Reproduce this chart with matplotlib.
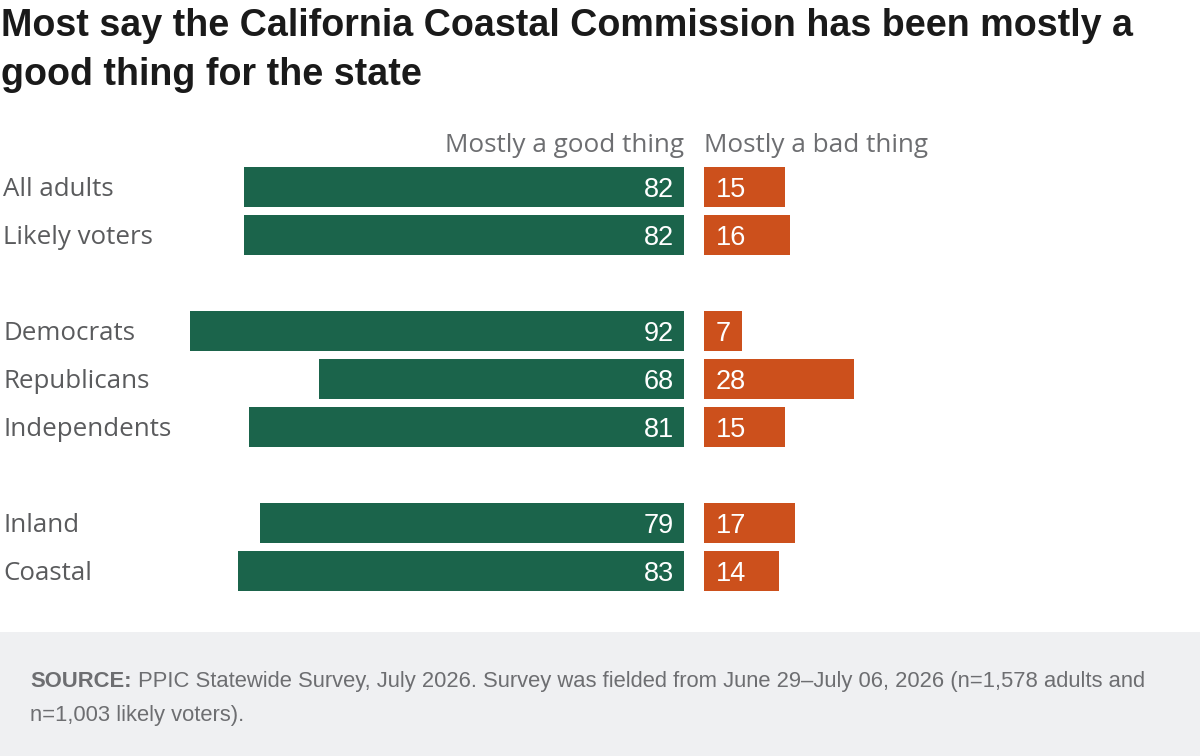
import matplotlib
matplotlib.use("Agg")
import matplotlib.pyplot as plt
from matplotlib.patches import Rectangle
from matplotlib.transforms import blended_transform_factory

# ---- data ----
categories = ["All adults", "Likely voters", "Democrats", "Republicans",
              "Independents", "Inland", "Coastal"]
group_pos = [0, 1, 3, 4, 5, 7, 8]
good = [82, 82, 92, 68, 81, 79, 83]
bad = [15, 16, 7, 28, 15, 17, 14]
series_names = ["Mostly a good thing", "Mostly a bad thing"]
title_lines = ["Most say the California Coastal Commission has been mostly a",
               "good thing for the state"]
source_bold = "SOURCE:"
source_rest = " PPIC Statewide Survey, July 2026. Survey was fielded from June 29\u2013July 06, 2026 (n=1,578 adults and"
source_line2 = "n=1,003 likely voters)."

GREEN = "#1b644b"
ORANGE = "#cc501c"
LABEL = "#5a5b5d"
HEAD = "#6d6e71"
SRC = "#6d6e71"

W, H = 1200, 756
fig = plt.figure(figsize=(W / 100, H / 100), dpi=100)
fig.patch.set_facecolor("white")

TFONT = ["Liberation Sans", "DejaVu Sans"]
LFONT = ["Open Sans", "DejaVu Sans"]
NFONT = ["Liberation Sans", "DejaVu Sans"]

px = 5.37  # pixels per percentage point
top_px, bot_px = 163, 595
bottom = 1 - bot_px / H
height = (bot_px - top_px) / H

left_l, right_l = 150, 684
left_r, right_r = 704, 1200
axL = fig.add_axes([left_l / W, bottom, (right_l - left_l) / W, height])
axR = fig.add_axes([left_r / W, bottom, (right_r - left_r) / W, height])
axL.set_xlim(-(right_l - left_l) / px, 0)
axR.set_xlim(0, (right_r - left_r) / px)
for ax in (axL, axR):
    ax.set_ylim(8.5, -0.5)
    ax.axis("off")

bh = 40 / 48
axL.barh(group_pos, [-v for v in good], height=bh, color=GREEN, linewidth=0)
axR.barh(group_pos, bad, height=bh, color=ORANGE, linewidth=0)

for y, v in zip(group_pos, good):
    axL.annotate(f"{v}", xy=(0, y), xytext=(-10, -10), textcoords="offset pixels",
                 ha="right", va="baseline", color="white", fontsize=19.5,
                 family=NFONT)
for y, v in zip(group_pos, bad):
    axR.annotate(f"{v}", xy=(0, y), xytext=(12, -10), textcoords="offset pixels",
                 ha="left", va="baseline", color="white", fontsize=19.5,
                 family=NFONT)

trans = blended_transform_factory(fig.transFigure, axL.transData)
for y, c in zip(group_pos, categories):
    fig.add_artist(plt.Annotation(c, xy=(3 / W, y), xycoords=trans, xytext=(0, -9),
                                  textcoords="offset pixels", ha="left", va="baseline",
                                  color=LABEL, fontsize=18.6, family=LFONT))

# headers
fig.text(right_l / W, 1 - 152 / H, series_names[0], ha="right", va="baseline",
         color=HEAD, fontsize=18.8, family=LFONT)
fig.text(left_r / W, 1 - 152 / H, series_names[1], ha="left", va="baseline",
         color=HEAD, fontsize=18.8, family=LFONT)

# title
for i, line in enumerate(title_lines):
    fig.text(1 / W, 1 - (36 + 49 * i) / H, line, ha="left", va="baseline",
             color="#1a1a1a", fontsize=27.1, fontweight="bold", family=TFONT)

# footer band
fig.patches.append(Rectangle((0, 0), 1, 1 - 632 / H, transform=fig.transFigure,
                             facecolor="#eff0f2", edgecolor="none", zorder=0))
t1 = fig.text(30 / W, 1 - 687 / H, source_bold, ha="left", va="baseline",
              color=SRC, fontsize=15.85, fontweight="bold", family=NFONT)
fig.add_artist(plt.Annotation(source_rest, xy=(1, 0), xycoords=t1, ha="left",
                              va="bottom", color=SRC, fontsize=15.85, family=NFONT))
fig.text(30 / W, 1 - 721 / H, source_line2, ha="left", va="baseline",
         color=SRC, fontsize=15.85, family=NFONT)

fig.savefig("out.png", dpi=100)
